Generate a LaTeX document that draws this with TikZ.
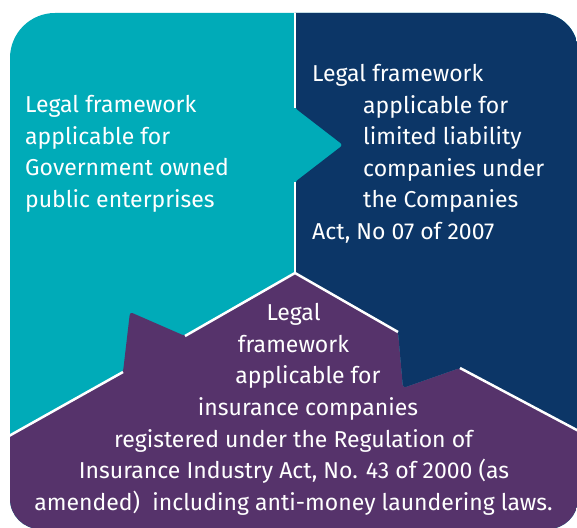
\documentclass[tikz,border=0pt]{standalone}
\usepackage{fontspec}
\setmainfont{Fira Sans}
\usetikzlibrary{positioning}
\definecolor{govteal}{RGB}{0,171,184}
\definecolor{conavy}{RGB}{12,54,103}
\definecolor{inspurple}{RGB}{86,51,107}

\begin{document}
\begin{tikzpicture}[x=1pt, y=1pt,
  piece/.style={rounded corners=3pt},
  seam/.style={draw=white, line width=2.5pt},
  lbl/.style={text=white, inner sep=0pt, font=\fontsize{23}{27}\selectfont}]
  \useasboundingbox (0,0) rectangle (577,527);
  % seam points
  \coordinate (top) at (295,600);
  \coordinate (tabA) at (295,419);
  \coordinate (tabTip) at (343,382);
  \coordinate (tabB) at (295,345);
  \coordinate (mid) at (295,254);
  \coordinate (lEnd) at (0,86);
  \coordinate (pA) at (123,155);
  \coordinate (pTip) at (130,215);
  \coordinate (pB) at (185,191);
  \coordinate (nA) at (398,195);
  \coordinate (nTip) at (403,139);
  \coordinate (nB) at (460,159);
  \coordinate (rEnd) at (590,90);
  \begin{scope}
    \clip (10,28) -- (10,469) arc[start angle=180, end angle=90, radius=45]
      -- (540,514) arc[start angle=90, end angle=0, radius=38]
      -- (578,28) arc[start angle=0, end angle=-90, radius=30]
      -- (40,-2) arc[start angle=270, end angle=180, radius=30] -- cycle;
    \fill[govteal] (0,-10) rectangle (600,600);
    \fill[conavy, piece] (top) -- (tabA) -- (tabTip) -- (tabB) -- (mid) -- (nA)
      -- (nTip) -- (nB) -- (rEnd) -- (600,600) -- cycle;
    \fill[inspurple, piece] (lEnd) -- (pA) -- (pTip) -- (pB) -- (mid) -- (nA)
      -- (nTip) -- (nB) -- (rEnd) -- (600,-10) -- (0,-10) -- cycle;
    \draw[seam] (top) -- (tabA);
    \draw[seam] (tabB) -- (mid);
    \draw[seam] (lEnd) -- (pA);
    \draw[seam] (pB) -- (mid) -- (nA);
    \draw[seam] (nB) -- (rEnd);
  \end{scope}
  % government owned enterprises
  \foreach \i/\y/\t in {1/414/Legal framework, 2/382.5/applicable for,
      3/351/Government owned, 4/319.5/public enterprises}{
    \node[lbl, anchor=base west] (gov-\i) at (25,\y) {\t};
  }
  % limited liability companies
  \foreach \i/\x/\y/\t in {1/312/445/Legal framework, 2/363/413.5/applicable for,
      3/363/382/limited liability, 4/363/350.5/companies under,
      5/363/319/the Companies, 6/312/287.5/{Act, No 07 of 2007}}{
    \node[lbl, anchor=base west] (co-\i) at (\x,\y) {\t};
  }
  % insurance companies
  \foreach \i/\x/\y/\t in {1/293.5/206/Legal, 2/293.5/174.5/framework,
      3/308/143/applicable for, 4/308/111.5/insurance companies,
      5/293.5/80/registered under the Regulation of,
      6/294/48.5/{Insurance Industry Act, No. 43 of 2000 (as},
      7/293.5/17/{amended)\ \ including anti-money laundering laws.}}{
    \node[lbl, anchor=base] (ins-\i) at (\x,\y) {\t};
  }
\end{tikzpicture}
\end{document}
